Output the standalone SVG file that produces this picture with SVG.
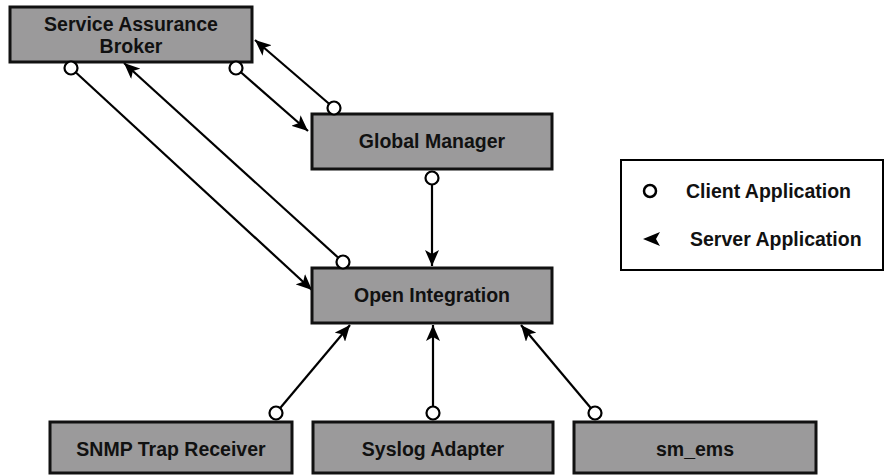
<svg xmlns="http://www.w3.org/2000/svg" width="886" height="475" viewBox="0 0 886 475">
<style>
.box{fill:#9b9a9b;stroke:#111;stroke-width:3}
.lbl{font-family:"Liberation Sans",Arial,sans-serif;font-weight:bold;font-size:19.5px;fill:#111;text-anchor:middle}
.leg{font-family:"Liberation Sans",Arial,sans-serif;font-weight:bold;font-size:19.5px;fill:#111}
.con{stroke:#000;stroke-width:2.2;fill:none;marker-end:url(#ah)}
.cl{fill:#fff;stroke:#000;stroke-width:2.2}
</style>
<defs>
<marker id="ah" markerUnits="userSpaceOnUse" markerWidth="18" markerHeight="14" refX="16" refY="7" orient="auto">
<path d="M0,0 L16,7 L0,14 L4,7 Z" fill="#000"/>
</marker>
</defs>
<rect width="886" height="475" fill="#fff"/>
<g id="connectors">
<line class="con" x1="71" y1="68" x2="312" y2="290"/>
<line class="con" x1="343" y1="262" x2="124" y2="63"/>
<line class="con" x1="334" y1="108" x2="255" y2="40"/>
<line class="con" x1="236" y1="68" x2="308" y2="131"/>
<line class="con" x1="432" y1="178" x2="432" y2="266"/>
<line class="con" x1="276" y1="413" x2="350" y2="325"/>
<line class="con" x1="433" y1="413" x2="433" y2="325"/>
<line class="con" x1="595" y1="413" x2="521" y2="325"/>
</g>
<g id="sab">
<rect class="box" x="10" y="7" width="242" height="55"/>
<text class="lbl" x="131" y="31">Service Assurance</text>
<text class="lbl" x="131" y="53">Broker</text>
</g>
<g id="gm">
<rect class="box" x="312" y="114" width="240" height="55"/>
<text class="lbl" x="432" y="148">Global Manager</text>
</g>
<g id="oi">
<rect class="box" x="312" y="268" width="240" height="55"/>
<text class="lbl" x="432" y="302">Open Integration</text>
</g>
<g id="snmp">
<rect class="box" x="50" y="422" width="242" height="51"/>
<text class="lbl" x="171" y="456">SNMP Trap Receiver</text>
</g>
<g id="syslog">
<rect class="box" x="313" y="422" width="240" height="51"/>
<text class="lbl" x="433" y="456">Syslog Adapter</text>
</g>
<g id="smems">
<rect class="box" x="574" y="422" width="242" height="51"/>
<text class="lbl" x="695" y="456">sm_ems</text>
</g>
<g id="clients">
<circle class="cl" cx="71" cy="68" r="6.5"/>
<circle class="cl" cx="236" cy="68" r="6.5"/>
<circle class="cl" cx="334" cy="108" r="6.5"/>
<circle class="cl" cx="432" cy="178" r="6.5"/>
<circle class="cl" cx="343" cy="262" r="6.5"/>
<circle class="cl" cx="276" cy="413" r="6.5"/>
<circle class="cl" cx="433" cy="413" r="6.5"/>
<circle class="cl" cx="595" cy="413" r="6.5"/>
</g>
<g id="legend">
<rect x="621" y="160" width="262" height="110" fill="#fff" stroke="#000" stroke-width="2"/>
<circle cx="650" cy="191" r="6" fill="#fff" stroke="#000" stroke-width="2.5"/>
<text class="leg" x="686" y="198">Client Application</text>
<path d="M643,239 L660,232 L656,239 L660,246 Z" fill="#000"/>
<text class="leg" x="690" y="246">Server Application</text>
</g>
</svg>
